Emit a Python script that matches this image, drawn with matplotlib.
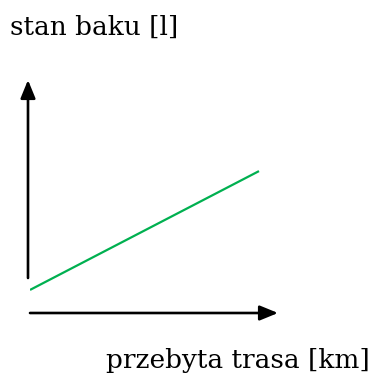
import matplotlib
matplotlib.use('Agg')
import matplotlib.pyplot as plt

# przebyta trasa vs stan baku (schematic, no scale)
distance = [0.0, 10.0]
fuel = [0.99, 6.09]
y_label = 'stan baku [l]'
x_label = 'przebyta trasa [km]'

fig = plt.figure(figsize=(3.75, 3.76), dpi=100)
ax = fig.add_axes([30/375, 63/376, 248/375, 233/376])
ax.set_xlim(0, 10.83)
ax.set_ylim(0, 10)
ax.axis('off')

ax.plot(distance, fuel, color='#00b050', lw=1.6, solid_capstyle='butt')

arrow = dict(arrowstyle='-|>,head_length=1.1,head_width=0.45', color='black',
             lw=1.9, shrinkA=0, shrinkB=0)
# y axis arrow
ax.annotate('', xy=(-2/248, 1.0), xytext=(-2/248, 35/233),
            xycoords='axes fraction', arrowprops=arrow)
# x axis arrow
ax.annotate('', xy=(1.0, 0.0), xytext=(0.0, 0.0),
            xycoords='axes fraction', arrowprops=arrow)

fig.text(10/375, 1 - 35/376, y_label, family='DejaVu Serif', fontsize=19,
         ha='left', va='baseline')
fig.text(370/375, 1 - 368/376, x_label, family='DejaVu Serif', fontsize=19,
         ha='right', va='baseline')

fig.savefig('out.png', dpi=100)
